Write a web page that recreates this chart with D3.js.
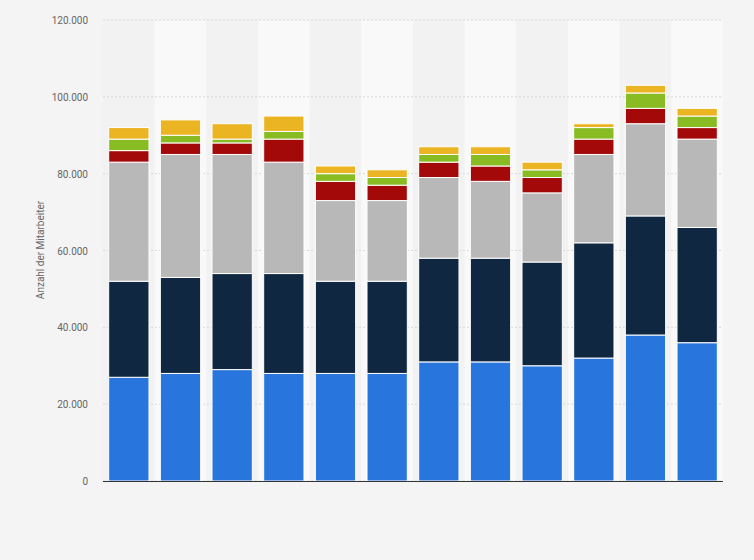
<!DOCTYPE html><html><head><meta charset="utf-8"><script src="https://cdn.jsdelivr.net/npm/d3@7"></script>
<style>body{margin:0;background:#f4f4f4}</style></head><body><svg id="c" width="754" height="560"></svg><script>
const categories=["1","2","3","4","5","6","7","8","9","10","11","12"];
const seriesNames=["s1","s2","s3","s4","s5","s6"];
const colors=["#2876dd","#0f2741","#b8b8b8","#a30909","#89bc22","#ebb422"];
const s1=[27,28,29,28,28,28,31,31,30,32,38,36].map(v=>v*1000);
const s2=[25,25,25,26,24,24,27,27,27,30,31,30].map(v=>v*1000);
const s3=[31,32,31,29,21,21,21,20,18,23,24,23].map(v=>v*1000);
const s4=[3,3,3,6,5,4,4,4,4,4,4,3].map(v=>v*1000);
const s5=[3,2,1,2,2,2,2,3,2,3,4,3].map(v=>v*1000);
const s6=[3,4,4,4,2,2,2,2,2,1,2,2].map(v=>v*1000);
const yTicks=[0,20000,40000,60000,80000,100000,120000];
const all=[s1,s2,s3,s4,s5,s6];
const data=categories.map((c,i)=>{const o={c};seriesNames.forEach((s,j)=>o[s]=all[j][i]);return o;});
const svg=d3.select("#c");
const L=103,R=723,T=20,B=481;
const x=d3.scaleBand().domain(categories).range([L,R]).paddingInner(0.22).paddingOuter(0.11);
const xb=d3.scaleBand().domain(categories).range([L,R]);
const y=d3.scaleLinear().domain([0,120000]).range([B,T]);
svg.selectAll(".bg").data(categories).join("rect").attr("x",d=>xb(d)).attr("y",T).attr("width",xb.bandwidth()).attr("height",B-T).attr("fill",(d,i)=>i%2?"#f9f9f9":"#f2f2f2");
svg.append("g").selectAll("line").data(yTicks).join("line").attr("x1",L).attr("x2",R).attr("y1",d=>y(d)).attr("y2",d=>y(d)).attr("stroke","#d8d8d8").attr("stroke-dasharray","2,2");
const fmt=d=>d3.format(",")(d).replace(/,/g,".");
svg.append("g").selectAll("text").data(yTicks).join("text").attr("x",88).attr("y",d=>y(d)+4).attr("text-anchor","end").attr("font-family","Roboto,Arial,sans-serif").attr("font-size",10).attr("fill","#666").text(fmt);
const stack=d3.stack().keys(seriesNames)(data);
svg.append("g").selectAll("g").data(stack).join("g").attr("fill",(d,i)=>colors[i]).selectAll("rect").data(d=>d).join("rect")
.attr("x",d=>x(d.data.c)).attr("width",x.bandwidth()).attr("y",d=>y(d[1])).attr("height",d=>y(d[0])-y(d[1])).attr("stroke","#fff").attr("stroke-width",1);
svg.append("line").attr("x1",L).attr("x2",R).attr("y1",B+0.5).attr("y2",B+0.5).attr("stroke","#333").attr("stroke-width",1);
svg.append("text").attr("transform",`translate(44,250) rotate(-90)`).attr("text-anchor","middle").attr("font-family","Roboto,Arial,sans-serif").attr("font-size",10).attr("fill","#666").text("Anzahl der Mitarbeiter");
</script></body></html>
